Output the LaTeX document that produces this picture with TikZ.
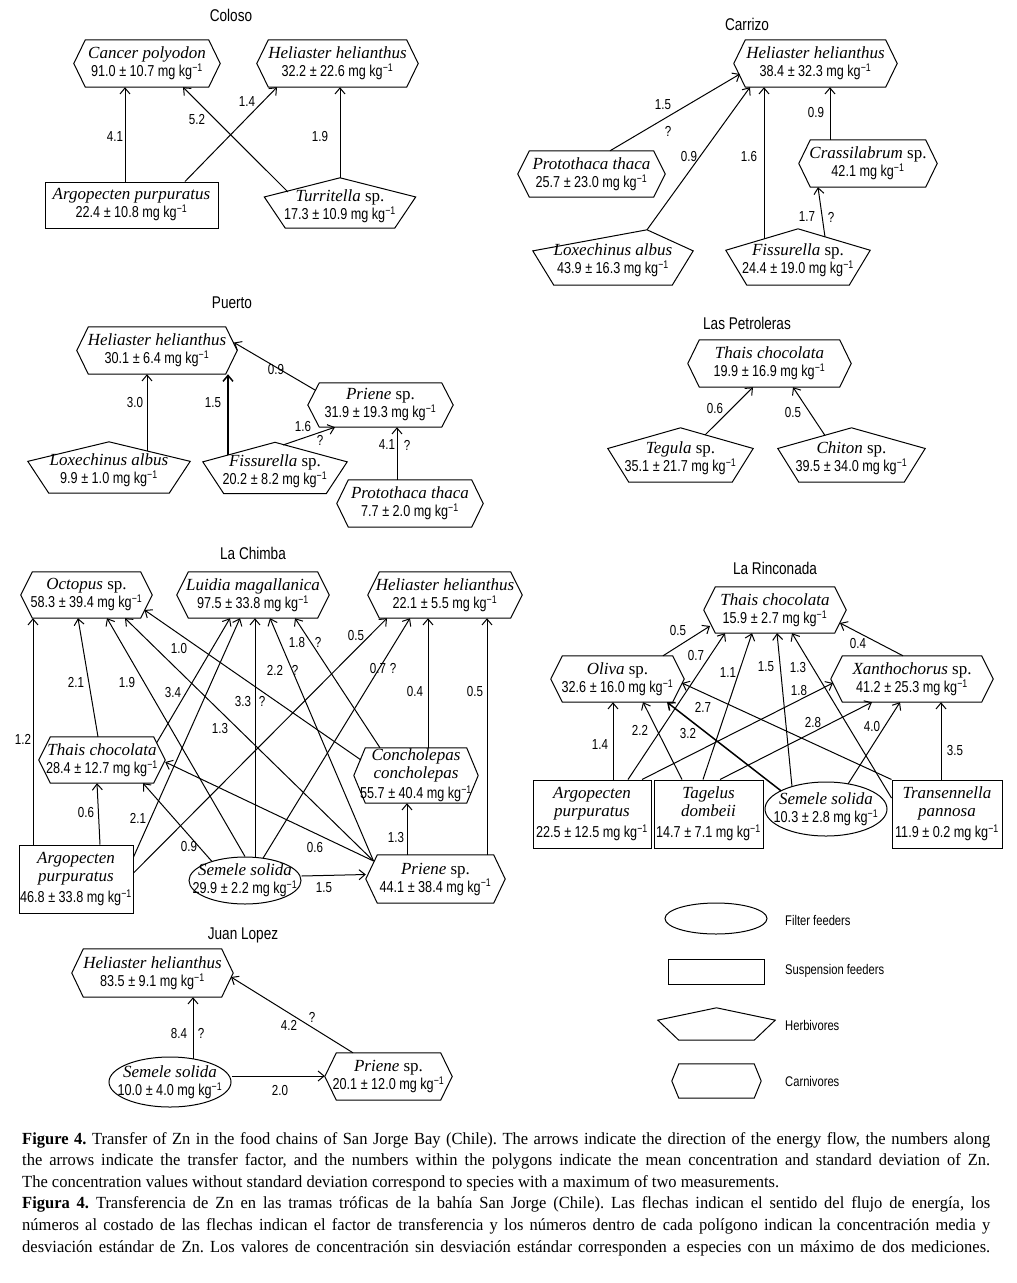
\documentclass[tikz,border=0pt]{standalone}
\usepackage{fontspec}
\setmainfont{Liberation Serif}
\setsansfont{Liberation Sans}[FakeStretch=0.8]
\newfontfamily\capfont{Liberation Serif}[FakeStretch=0.97]
\usetikzlibrary{arrows.meta,shapes.geometric,calc}

\newcommand{\conc}[1]{{\sffamily\fontsize{15.8}{17}\selectfont #1 mg kg\textsuperscript{−1}}}
\newcommand{\capline}[1]{\makebox[968pt][s]{#1}}

\tikzset{
  shapeline/.style={line width=1pt},
  arr/.style={line width=1pt, -{Straight Barb[length=6pt,width=10pt]}},
  thick arr/.style={arr, line width=1.5pt},
  lab/.style={font=\sffamily\fontsize{14.5}{16}\selectfont, inner sep=0pt},
  chaintitle/.style={font=\sffamily\fontsize{17}{19}\selectfont, inner sep=0pt},
  legtext/.style={font=\sffamily\fontsize{14}{16}\selectfont, inner sep=0pt, anchor=west},
  species/.style={align=center, inner sep=0pt, font=\fontsize{17}{18}\selectfont},
  carn/.style={species, rectangle, append after command={\pgfextra{\draw[shapeline]
      ([xshift=#1]\tikzlastnode.north west) -- ([xshift=-#1]\tikzlastnode.north east)
      -- (\tikzlastnode.east) -- ([xshift=-#1]\tikzlastnode.south east)
      -- ([xshift=#1]\tikzlastnode.south west) -- (\tikzlastnode.west) -- cycle;}}},
  carn/.default=11.5pt,
  % the apex stands 6pt above the node box
  herb/.style={species, rectangle, append after command={\pgfextra{\draw[shapeline]
      ([shift={(#1,6pt)}]\tikzlastnode.north)
      -- ([yshift=3.7pt]$(\tikzlastnode.north east)!0.38!(\tikzlastnode.south east)$)
      -- ([xshift=-21pt]\tikzlastnode.south east) -- ([xshift=21pt]\tikzlastnode.south west)
      -- ([yshift=3.7pt]$(\tikzlastnode.north west)!0.38!(\tikzlastnode.south west)$) -- cycle;}}},
  herb/.default=0pt,
  susp/.style={species, rectangle, draw, shapeline},
  filt/.style={species, ellipse, draw, shapeline, inner xsep=-14pt, inner ysep=-4pt},
}

\begin{document}
\begin{tikzpicture}[x=1pt,y=-1pt]
    \useasboundingbox (0,0) rectangle (1017,1283);

    % Coloso
    \node[chaintitle] (cotitle) at (231,15) {Coloso};
    \node[carn, minimum width=146pt, minimum height=47pt] (cocan) at (147,63.5) {\textit{Cancer polyodon}\\\conc{91.0 ± 10.7}};
    \node[carn, minimum width=161pt, minimum height=47pt] (cohel) at (337.5,63.5) {\textit{Heliaster helianthus}\\\conc{32.2 ± 22.6}};
    \node[susp, minimum width=173pt, minimum height=46pt] (coarg) at (131.5,205) {\textit{Argopecten purpuratus}\\\conc{22.4 ± 10.8}};
    \node[herb, minimum width=151pt, minimum height=44pt] (cotur) at (340,206) {\textit{Turritella} sp.\\\conc{17.3 ± 10.9}};

    \draw[arr] ([xshift=-6.5pt]coarg.north) -- ([xshift=-22pt]cocan.south);
    \draw[arr] ([xshift=53.5pt]coarg.north) -- ([xshift=-60.5pt]cohel.south);
    \draw[arr] ([shift={(-52pt,14pt)}]cotur.center) -- ([xshift=36pt]cocan.south);
    \draw[arr] ([yshift=6pt]cotur.north) -- (cotur.north |- cohel.south);

    \node[lab] (co41) at (115,137) {4.1};
    \node[lab] (co14) at (247,102) {1.4};
    \node[lab] (co52) at (197,120) {5.2};
    \node[lab] (co19) at (320,137) {1.9};

    % Carrizo
    \node[chaintitle] (catitle) at (747,24) {Carrizo};
    \node[carn, minimum width=163pt, minimum height=47pt] (cahel) at (815.5,63.5) {\textit{Heliaster helianthus}\\\conc{38.4 ± 32.3}};
    \node[carn, minimum width=147pt, minimum height=46pt] (capro) at (591.5,174) {\textit{Protothaca thaca}\\\conc{25.7 ± 23.0}};
    \node[carn, minimum width=138pt, minimum height=47pt] (cacra) at (868,163.5) {\textit{Crassilabrum} sp.\\\conc{42.1}};
    \node[herb=34pt, minimum width=160pt, minimum height=49pt] (calox) at (613,260.5) {\textit{Loxechinus albus}\\\conc{43.9 ± 16.3}};
    \node[herb, minimum width=144pt, minimum height=50pt] (cafis) at (798,260) {\textit{Fissurella} sp.\\\conc{24.4 ± 19.0}};

    \draw[arr] ([xshift=18.5pt]capro.north) -- ([shift={(-75.5pt,-10.5pt)}]cahel.center);
    \draw[arr] ([shift={(34pt,6pt)}]calox.north) -- ([xshift=-65.5pt]cahel.south);
    \draw[arr] ([shift={(-34pt,21pt)}]cafis.center) -- ([xshift=-51.5pt]cahel.south);
    \draw[arr] ([shift={(27pt,23pt)}]cafis.center) -- ([xshift=-50pt]cacra.south);
    \draw[arr] ([xshift=-38pt]cacra.north) -- ([xshift=14.5pt]cahel.south);

    \node[lab] (ca15) at (663,105) {1.5};
    \node[lab] (ca15q) at (668,131) {?};
    \node[lab] (ca09a) at (689,157) {0.9};
    \node[lab] (ca16) at (749,157) {1.6};
    \node[lab] (ca17) at (807,217) {1.7};
    \node[lab] (ca17q) at (831,217) {?};
    \node[lab] (ca09b) at (816,113) {0.9};

    % Puerto
    \node[chaintitle] (putitle) at (232,303) {Puerto};
    \node[carn, minimum width=160pt, minimum height=47pt] (puhel) at (157,350.5) {\textit{Heliaster helianthus}\\\conc{30.1 ± 6.4}};
    \node[carn, minimum width=145pt, minimum height=44pt] (pupri) at (380.5,405) {\textit{Priene} sp.\\\conc{31.9 ± 19.3}};
    \node[herb, minimum width=162pt, minimum height=45pt] (pulox) at (109,470.5) {\textit{Loxechinus albus}\\\conc{9.9 ± 1.0}};
    \node[herb, minimum width=144pt, minimum height=45pt] (pufis) at (275,471) {\textit{Fissurella} sp.\\\conc{20.2 ± 8.2}};
    \node[carn, minimum width=146pt, minimum height=47pt] (pupro) at (410,503.5) {\textit{Protothaca thaca}\\\conc{7.7 ± 2.0}};

    \draw[arr] ([shift={(38pt,19.5pt)}]pulox.center) -- ([xshift=-10pt]puhel.south);
    \draw[thick arr] ([shift={(-47pt,15.8pt)}]pufis.center) -- ([xshift=71pt]puhel.south);
    \draw[arr] ([shift={(-65.5pt,15pt)}]pupri.center) -- ([shift={(77pt,8pt)}]puhel.center);
    \draw[arr] ([shift={(8pt,26pt)}]pufis.center) -- ([xshift=-45.5pt]pupri.south);
    \draw[arr] ([xshift=-13pt]pupro.north) -- ([xshift=16.5pt]pupri.south);

    \node[lab] (pu30) at (135,403) {3.0};
    \node[lab] (pu15) at (213,403) {1.5};
    \node[lab] (pu09) at (276,370) {0.9};
    \node[lab] (pu16) at (303,427) {1.6};
    \node[lab] (pu16q) at (320,440) {?};
    \node[lab] (pu41) at (387,445) {4.1};
    \node[lab] (pu41q) at (407,445) {?};

    % Las Petroleras
    \node[chaintitle] (petitle) at (747,323) {Las Petroleras};
    \node[carn, minimum width=163pt, minimum height=47pt] (pethai) at (769.5,363.5) {\textit{Thais chocolata}\\\conc{19.9 ± 16.9}};
    \node[herb, minimum width=145pt, minimum height=48pt] (peteg) at (680.5,458) {\textit{Tegula} sp.\\\conc{35.1 ± 21.7}};
    \node[herb, minimum width=147pt, minimum height=48pt] (pechi) at (851.5,458) {\textit{Chiton} sp.\\\conc{39.5 ± 34.0}};

    \draw[arr] ([shift={(24.5pt,23pt)}]peteg.center) -- ([xshift=-16.5pt]pethai.south);
    \draw[arr] ([shift={(-26.5pt,22.5pt)}]pechi.center) -- ([xshift=23.5pt]pethai.south);

    \node[lab] (pe06) at (715,409) {0.6};
    \node[lab] (pe05) at (793,413) {0.5};

    % La Chimba
    \node[chaintitle] (chtitle) at (253,553) {La Chimba};
    \node[carn, minimum width=131pt, minimum height=46pt] (choct) at (86.5,595) {\textit{Octopus} sp.\\\conc{58.3 ± 39.4}};
    \node[carn, minimum width=152pt, minimum height=46pt] (chlui) at (253,595) {\textit{Luidia magallanica}\\\conc{97.5 ± 33.8}};
    \node[carn, minimum width=154pt, minimum height=46pt] (chhel) at (445,595) {\textit{Heliaster helianthus}\\\conc{22.1 ± 5.5}};
    \node[carn, minimum width=126pt, minimum height=46pt] (chthai) at (102,760) {\textit{Thais chocolata}\\\conc{28.4 ± 12.7}};
    \node[carn, minimum width=124pt, minimum height=55pt] (chcon) at (416,775.5) {\textit{Concholepas}\\\textit{concholepas}\\[2pt]\conc{55.7 ± 40.4}};
    \node[susp, minimum width=114pt, minimum height=68pt] (charg) at (76,879) {\textit{Argopecten}\\\textit{purpuratus}\\[3pt]\conc{46.8 ± 33.8}};
    \node[filt, minimum width=112pt, minimum height=47pt] (chsem) at (245,880.5) {\textit{Semele solida}\\\conc{29.9 ± 2.2}};
    \node[carn, minimum width=139pt, minimum height=48pt] (chpri) at (435.5,879) {\textit{Priene} sp.\\\conc{44.1 ± 38.4}};

    \draw[arr] ([xshift=-43pt]charg.north) -- ([xshift=-53.5pt]choct.south);
    \draw[arr] ([xshift=24pt]charg.north) -- ([xshift=-5pt]chthai.south);
    \draw[arr] ([xshift=-4pt]chthai.north) -- ([xshift=-8.5pt]choct.south);
    \draw[arr] (chsem.north) -- ([xshift=20.5pt]choct.south);
    \draw[arr] ([shift={(-62pt,18pt)}]chpri.center) -- ([xshift=38.5pt]choct.south);
    \draw[arr] ([shift={(-55pt,15.5pt)}]chcon.center) -- ([shift={(58pt,-15pt)}]choct.center);
    \draw[arr] ([yshift=22pt]charg.east) -- ([xshift=-13pt]chlui.south);
    \draw[arr] ([shift={(54.5pt,17pt)}]chthai.center) -- ([xshift=-23pt]chlui.south);
    \draw[arr] ([xshift=10pt]chsem.north) -- ([xshift=2pt]chlui.south);
    \draw[arr] ([shift={(-62pt,18pt)}]chpri.center) -- ([xshift=17pt]chlui.south);
    \draw[arr] ([xshift=-36pt]chcon.north) -- ([xshift=42pt]chlui.south);
    \draw[arr] ([shift={(18pt,22.3pt)}]chsem.center) -- ([xshift=-35pt]chhel.south);
    \draw[arr] ([yshift=6pt]charg.east) -- ([xshift=-58pt]chhel.south);
    \draw[arr] ([xshift=12pt]chcon.north) -- ([xshift=-17pt]chhel.south);
    \draw[arr] ([xshift=51.5pt]chpri.north) -- ([xshift=42pt]chhel.south);
    \draw[arr] ([xshift=-28.5pt]chpri.north) -- ([xshift=-9pt]chcon.south);
    \draw[arr] ([shift={(-33pt,19pt)}]chsem.center) -- ([xshift=41pt]chthai.south);
    \draw[arr] ([shift={(-62pt,18pt)}]chpri.center) -- ([yshift=-2pt]chthai.east);
    \draw[arr] ([yshift=4.5pt]chsem.east) -- ([yshift=4.5pt]chpri.west);

    \node[lab] (ch12) at (23,739) {1.2};
    \node[lab] (ch06a) at (86,812) {0.6};
    \node[lab] (ch21a) at (76,682) {2.1};
    \node[lab] (ch19) at (127,682) {1.9};
    \node[lab] (ch13a) at (220,728) {1.3};
    \node[lab] (ch10) at (179,648) {1.0};
    \node[lab] (ch21b) at (138,818) {2.1};
    \node[lab] (ch34) at (173,692) {3.4};
    \node[lab] (ch33) at (243,701) {3.3};
    \node[lab] (ch33q) at (262,701) {?};
    \node[lab] (ch22) at (275,670) {2.2};
    \node[lab] (ch22q) at (295,670) {?};
    \node[lab] (ch18) at (297,642) {1.8};
    \node[lab] (ch18q) at (318,642) {?};
    \node[lab] (ch07) at (378,668) {0.7};
    \node[lab] (ch07q) at (393,668) {?};
    \node[lab] (ch05a) at (356,635) {0.5};
    \node[lab] (ch04) at (415,691) {0.4};
    \node[lab] (ch05b) at (475,691) {0.5};
    \node[lab] (ch13b) at (396,837) {1.3};
    \node[lab] (ch09) at (189,846) {0.9};
    \node[lab] (ch06b) at (315,847) {0.6};
    \node[lab] (ch15) at (324,888) {1.5};

    % La Rinconada
    \node[chaintitle] (rititle) at (775,568) {La Rinconada};
    \node[carn, minimum width=142pt, minimum height=46pt] (rithai) at (775,610) {\textit{Thais chocolata}\\\conc{15.9 ± 2.7}};
    \node[carn, minimum width=133pt, minimum height=46pt] (rioli) at (617.5,679) {\textit{Oliva} sp.\\\conc{32.6 ± 16.0}};
    \node[carn, minimum width=162pt, minimum height=46pt] (rixan) at (912,679) {\textit{Xanthochorus} sp.\\\conc{41.2 ± 25.3}};
    \node[susp, minimum width=118pt, minimum height=68pt] (riarg) at (592,814) {\textit{Argopecten}\\\textit{purpuratus}\\[3pt]\conc{22.5 ± 12.5}};
    \node[susp, minimum width=109pt, minimum height=68pt] (ritag) at (708.5,814) {\textit{Tagelus}\\\textit{dombeii}\\[3pt]\conc{14.7 ± 7.1}};
    \node[filt, minimum width=122pt, minimum height=54pt] (risem) at (826,809) {\textit{Semele solida}\\\conc{10.3 ± 2.8}};
    \node[susp, minimum width=110pt, minimum height=68pt] (ritra) at (947,814) {\textit{Transennella}\\\textit{pannosa}\\[3pt]\conc{11.9 ± 0.2}};

    \draw[arr] ([xshift=45.5pt]rioli.north) -- ([shift={(-65pt,-16pt)}]rithai.center);
    \draw[arr] ([xshift=36pt]riarg.north) -- ([xshift=-50pt]rithai.south);
    \draw[arr] ([xshift=-5.5pt]ritag.north) -- ([xshift=-23pt]rithai.south);
    \draw[arr] ([shift={(-34pt,22.4pt)}]risem.center) -- ([xshift=2pt]rithai.south);
    \draw[arr] ([yshift=16pt]ritra.west) -- ([xshift=17pt]rithai.south);
    \draw[arr] ([xshift=-9pt]rixan.north) -- ([shift={(65pt,-13pt)}]rithai.center);
    \draw[arr] ([xshift=21pt]riarg.north) -- ([xshift=-4.5pt]rioli.south);
    \draw[arr] ([xshift=-26.5pt]ritag.north) -- ([xshift=25.5pt]rioli.south);
    \draw[thick arr] ([shift={(-45pt,18.2pt)}]risem.center) -- ([xshift=49.5pt]rioli.south);
    \draw[arr] (ritra.north west) -- ([shift={(64.5pt,-4pt)}]rioli.center);
    \draw[arr] ([xshift=50pt]riarg.north) -- ([shift={(-79pt,-4pt)}]rixan.center);
    \draw[arr] ([xshift=11.5pt]ritag.north) -- ([xshift=-40pt]rixan.south);
    \draw[arr] ([shift={(22pt,25pt)}]risem.center) -- ([xshift=-12pt]rixan.south);
    \draw[arr] ([xshift=-6pt]ritra.north) -- ([xshift=29pt]rixan.south);

    \node[lab] (ri05) at (678,630) {0.5};
    \node[lab] (ri07) at (696,655) {0.7};
    \node[lab] (ri11) at (728,673) {1.1};
    \node[lab] (ri15) at (766,667) {1.5};
    \node[lab] (ri13) at (798,667) {1.3};
    \node[lab] (ri04) at (858,643) {0.4};
    \node[lab] (ri14) at (600,745) {1.4};
    \node[lab] (ri22) at (640,730) {2.2};
    \node[lab] (ri32) at (688,733) {3.2};
    \node[lab] (ri27) at (703,707) {2.7};
    \node[lab] (ri18) at (799,690) {1.8};
    \node[lab] (ri28) at (813,722) {2.8};
    \node[lab] (ri40) at (872,726) {4.0};
    \node[lab] (ri35) at (955,750) {3.5};

    % Juan Lopez
    \node[chaintitle] (jltitle) at (243,935) {Juan Lopez};
    \node[carn, minimum width=161pt, minimum height=48pt] (jlhel) at (152.5,973) {\textit{Heliaster helianthus}\\\conc{83.5 ± 9.1}};
    \node[filt, minimum width=122pt, minimum height=50pt] (jlsem) at (170,1082) {\textit{Semele solida}\\\conc{10.0 ± 4.0}};
    \node[carn, minimum width=127pt, minimum height=47pt] (jlpri) at (388.5,1076.5) {\textit{Priene} sp.\\\conc{20.1 ± 12.0}};

    \draw[arr] ([shift={(23pt,23pt)}]jlsem.center) -- ([xshift=40.5pt]jlhel.south);
    \draw[arr] ([xshift=-35.5pt]jlpri.north) -- ([shift={(78.5pt,-4pt)}]jlhel.center);
    \draw[arr] ([yshift=6pt]jlsem.east) -- ([yshift=0.5pt]jlpri.west);

    \node[lab] (jl84) at (179,1033) {8.4};
    \node[lab] (jl84q) at (201,1033) {?};
    \node[lab] (jl42) at (289,1025) {4.2};
    \node[lab] (jl42q) at (312,1017) {?};
    \node[lab] (jl20) at (280,1090) {2.0};

    % legend
    \node[filt, minimum width=102pt, minimum height=31pt] (lgfil) at (716,918.5) {};
    \node[susp, minimum width=96pt, minimum height=25pt] (lgsus) at (716,971.5) {};
    \node[herb, minimum width=117pt, minimum height=26pt] (lgher) at (716.5,1027) {};
    \node[carn=7pt, minimum width=89pt, minimum height=34pt] (lgcar) at (716.5,1081) {};
    \node[legtext] (lgfiltxt) at (785,920) {Filter feeders};
    \node[legtext] (lgsustxt) at (785,971) {Suspension feeders};
    \node[legtext] (lghertxt) at (785,1025) {Herbivores};
    \node[legtext] (lgcartxt) at (785,1081) {Carnivores};

    % caption
    \node[anchor=north west, inner sep=0pt, align=left,
          font=\capfont\fontsize{17}{21.6}\selectfont\frenchspacing] (caption) at (22,1132)
      {\capline{\textbf{Figure 4.} Transfer of Zn in the food chains of San Jorge Bay (Chile). The arrows indicate the direction of the energy flow, the numbers along}\\
       \capline{the arrows indicate the transfer factor, and the numbers within the polygons indicate the mean concentration and standard deviation of Zn.}\\
       The concentration values without standard deviation correspond to species with a maximum of two measurements.\\
       \capline{\textbf{Figura 4.} Transferencia de Zn en las tramas tróficas de la bahía San Jorge (Chile). Las flechas indican el sentido del flujo de energía, los}\\
       \capline{números al costado de las flechas indican el factor de transferencia y los números dentro de cada polígono indican la concentración media y}\\
       \capline{desviación estándar de Zn. Los valores de concentración sin desviación estándar corresponden a especies con un máximo de dos mediciones.}};
\end{tikzpicture}
\end{document}
